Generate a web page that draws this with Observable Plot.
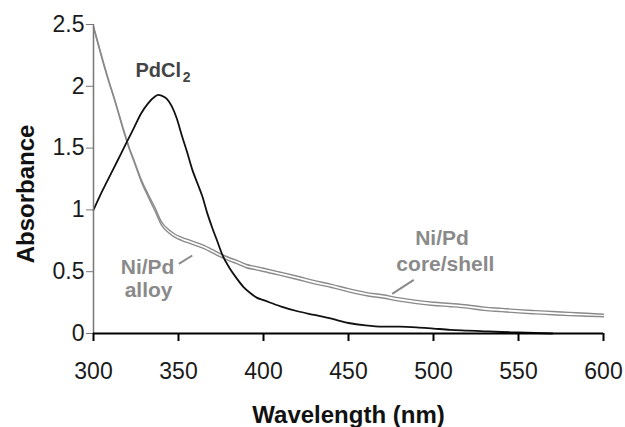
<!DOCTYPE html>
<html>
<head>
<meta charset="utf-8">
<script src="https://cdn.jsdelivr.net/npm/d3@7"></script>
<script src="https://cdn.jsdelivr.net/npm/@observablehq/plot@0.6"></script>
<style>
  html, body { margin: 0; padding: 0; background: #fff; }
  #chart svg { display: block; }
</style>
</head>
<body>
<div id="chart"></div>
<script>
// --- data ---
const grayWavelength = [300,303,306,309,312,315,318,321,324,328,332,336,340,344,348,352,357,361,365,370,375,380,385,390,395,400,410,420,430,440,450,460,470,480,490,500,510,520,530,540,550,560,570,580,590,600];
const alloyAbs = [2.486,2.336,2.186,2.046,1.916,1.776,1.636,1.506,1.396,1.248,1.13,1.023,0.903,0.843,0.803,0.778,0.753,0.733,0.713,0.678,0.643,0.613,0.588,0.558,0.543,0.528,0.496,0.463,0.428,0.398,0.363,0.333,0.313,0.288,0.268,0.253,0.243,0.231,0.213,0.203,0.193,0.185,0.178,0.171,0.164,0.156];
const coreShellAbs = [2.474,2.324,2.174,2.034,1.904,1.764,1.624,1.494,1.384,1.232,1.11,0.997,0.877,0.817,0.777,0.752,0.727,0.707,0.687,0.652,0.617,0.587,0.562,0.532,0.517,0.502,0.470,0.437,0.402,0.372,0.337,0.307,0.287,0.262,0.242,0.227,0.217,0.205,0.187,0.177,0.167,0.159,0.152,0.145,0.140,0.136];

const pdWavelength = [300,304,308,312,316,320,324,328,332,336,338,340,343,346,349,352,355,358,361,364,367,370,373,376,380,384,388,392,396,400,410,420,430,440,450,460,470,480,490,500,510,520,530,540,550,560,570];
const pdAbs = [1.0,1.12,1.23,1.34,1.45,1.56,1.67,1.78,1.86,1.915,1.93,1.925,1.90,1.84,1.74,1.60,1.47,1.33,1.22,1.11,0.97,0.85,0.74,0.63,0.53,0.45,0.38,0.33,0.29,0.27,0.22,0.18,0.15,0.12,0.085,0.065,0.055,0.055,0.05,0.04,0.03,0.024,0.018,0.012,0.008,0.004,0.0];

const xTicks = [300,350,400,450,500,550,600];
const yTicks = [0,0.5,1,1.5,2,2.5];

// annotation labels (data coordinates)
const grayLabels = ["Ni/Pd","alloy","Ni/Pd","core/shell"];
const grayLabelX = [331.8,332.4,505,507];
const grayLabelY = [0.483,0.294,0.712,0.502];
const leaderX1 = [350.2,475.7];
const leaderY1 = [0.564,0.321];
const leaderX2 = [358.1,488.4];
const leaderY2 = [0.631,0.434];

// --- build tables ---
const alloy = grayWavelength.map((w,i) => ({w, a: alloyAbs[i]}));
const coreShell = grayWavelength.map((w,i) => ({w, a: coreShellAbs[i]}));
const pdcl2 = pdWavelength.map((w,i) => ({w, a: pdAbs[i]}));
const grayLab = grayLabels.map((t,i) => ({t, x: grayLabelX[i], y: grayLabelY[i]}));
const leaders = leaderX1.map((x1,i) => ({x1, y1: leaderY1[i], x2: leaderX2[i], y2: leaderY2[i]}));

const GRAY = "#8a8a8a";
const FONT = "'Liberation Sans', Arial, Helvetica, sans-serif";

const chart = Plot.plot({
  width: 625,
  height: 427,
  marginLeft: 93,
  marginRight: 22,
  marginTop: 24,
  marginBottom: 94,
  style: {fontFamily: FONT, fontSize: "23px", color: "#1a1a1a", background: "#fff"},
  x: {domain: [300, 600], label: null},
  y: {domain: [0, 2.5], label: null},
  marks: [
    Plot.line(alloy, {x: "w", y: "a", stroke: GRAY, strokeWidth: 1.4, curve: "monotone-x"}),
    Plot.line(coreShell, {x: "w", y: "a", stroke: GRAY, strokeWidth: 1.4, curve: "monotone-x"}),
    Plot.line(pdcl2, {x: "w", y: "a", stroke: "#111", strokeWidth: 1.8, curve: "monotone-x"}),
    Plot.link(leaders, {x1: "x1", y1: "y1", x2: "x2", y2: "y2", stroke: GRAY, strokeWidth: 2}),
    Plot.text(grayLab, {x: "x", y: "y", text: "t", fill: GRAY, fontSize: 21, fontWeight: "bold", textAnchor: "middle", lineAnchor: "bottom"}),
    Plot.text(["PdCl"], {x: 324.7, y: 2.079, fill: "#444", fontSize: 20, fontWeight: "bold", textAnchor: "start", lineAnchor: "bottom"}),
    Plot.text(["2"], {x: 352.5, y: 2.033, fill: "#444", fontSize: 14, fontWeight: "bold", textAnchor: "start", lineAnchor: "bottom"}),
    Plot.ruleX([300], {stroke: "#777", strokeWidth: 1.5}),
    Plot.axisY({ticks: yTicks, tickSize: 7, tickPadding: 2, stroke: "#777", fill: "#1a1a1a", tickFormat: d => String(d), label: null}),
    Plot.axisX({ticks: xTicks, tickSize: 8, tickPadding: 21, stroke: "#000", strokeWidth: 2, fill: "#1a1a1a", tickFormat: d => String(d), label: null}),
    Plot.ruleY([0], {stroke: "#000", strokeWidth: 2}),
    Plot.text(["Wavelength (nm)"], {frameAnchor: "bottom", dy: 89, lineAnchor: "bottom", textAnchor: "middle", fontSize: 24, fontWeight: "bold", fill: "#111"}),
    Plot.text(["Absorbance"], {frameAnchor: "left", dx: -60, dy: 15, rotate: -90, lineAnchor: "bottom", textAnchor: "middle", fontSize: 24, fontWeight: "bold", fill: "#111"})
  ]
});
document.getElementById("chart").appendChild(chart);
</script>
</body>
</html>
